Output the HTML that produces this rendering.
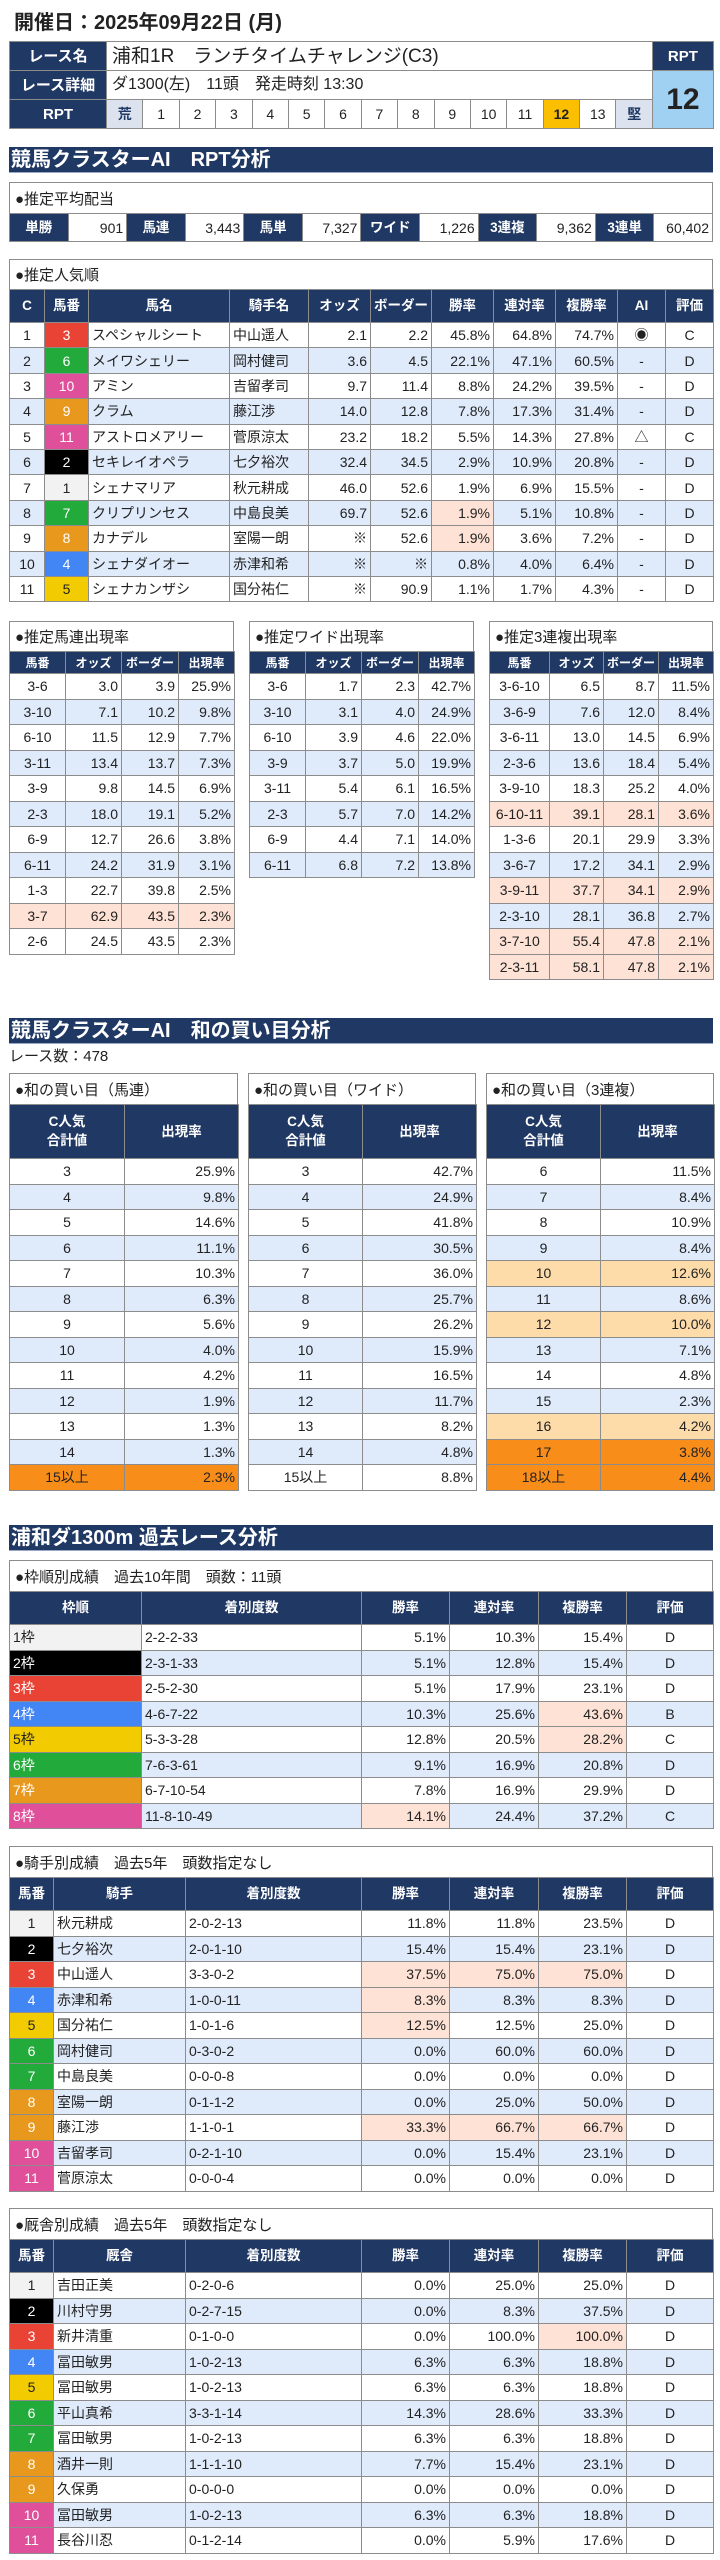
<!DOCTYPE html>
<html><head><meta charset="utf-8">
<style>
*{margin:0;padding:0;box-sizing:border-box}
body{width:720px;height:2560px;background:#fff;position:relative;font-family:"Liberation Sans","Noto Sans CJK JP",sans-serif;color:#222;overflow:hidden}
.a{position:absolute}
table{border-collapse:collapse;table-layout:fixed;position:absolute}
td{border:1px solid #8c8c8c;padding:0 3px;font-size:14px;white-space:nowrap;overflow:hidden;line-height:1}
td.h{background:#203864;color:#fff;font-weight:bold;text-align:center;font-size:13.5px}
.c{text-align:center}.r{text-align:right}.l{text-align:left}
tr.b td{background:#dfeafb}
td.s,tr.b td.s,tr.s td{background:#fde2d5}
td.o1,tr.b td.o1{background:#fddcaa}
td.o2,tr.b td.o2{background:#f98d1a}
.ttl{position:absolute;border:1px solid #8c8c8c;border-bottom:none;font-size:15px;padding-left:5px;display:flex;align-items:center;background:#fff}
.sec{position:absolute;left:9px;width:704px;height:26px;background:#203864;color:#fff;font-weight:bold;font-size:20px;line-height:26px;padding-left:2px;border-bottom:1px solid #9aa8c8}
.w1{background:#f2f2f2!important;color:#222}
.w2{background:#000!important;color:#fff}
.w3{background:#e94335!important;color:#fff}
.w4{background:#4285f4!important;color:#fff}
.w5{background:#f2cc00!important;color:#222}
.w6{background:#22aa3a!important;color:#fff}
.w7{background:#e8981d!important;color:#fff}
.w8{background:#e0509a!important;color:#fff}
</style></head><body>

<div class="a" style="left:14px;top:8px;font-size:20px;font-weight:bold;line-height:30px">開催日：2025年09月22日 (月)</div>

<table style="left:9px;top:41px;width:704px;border:1px solid #555">
<colgroup><col style="width:97px"><col span="15" style="width:36.4px"><col style="width:61px"></colgroup>
<tr style="height:29px"><td class="h" style="font-size:15px">レース名</td><td colspan="15" style="font-size:19px;padding-left:5px">浦和1R　ランチタイムチャレンジ(C3)</td><td class="h" style="font-size:15px">RPT</td></tr>
<tr style="height:29px"><td class="h" style="font-size:15px">レース詳細</td><td colspan="15" style="font-size:16px;padding-left:5px">ダ1300(左)　11頭　発走時刻 13:30</td><td rowspan="2" style="background:#a0d0f2;text-align:center;font-size:30px;font-weight:bold">12</td></tr>
<tr style="height:29px"><td class="h" style="font-size:15px">RPT</td><td class="c" style="background:#dce3ef;font-weight:bold;color:#203864">荒</td><td class="c">1</td><td class="c">2</td><td class="c">3</td><td class="c">4</td><td class="c">5</td><td class="c">6</td><td class="c">7</td><td class="c">8</td><td class="c">9</td><td class="c">10</td><td class="c">11</td><td class="c" style="background:#fbbf00;font-weight:bold">12</td><td class="c">13</td><td class="c" style="background:#dce3ef;font-weight:bold;color:#203864">堅</td></tr>
</table>

<div class="sec" style="top:147px">競馬クラスターAI　RPT分析</div>

<div class="ttl" style="left:9px;top:182px;width:704px;height:31px">●推定平均配当</div>
<table style="left:9px;top:213px;width:704px">
<tr style="height:28px"><td class="h">単勝</td><td class="r">901</td><td class="h">馬連</td><td class="r">3,443</td><td class="h">馬単</td><td class="r">7,327</td><td class="h">ワイド</td><td class="r">1,226</td><td class="h">3連複</td><td class="r">9,362</td><td class="h">3連単</td><td class="r">60,402</td></tr>
</table>

<div class="ttl" style="left:9px;top:259px;width:704px;height:30px">●推定人気順</div>
<table style="left:9px;top:289px;width:704px">
<colgroup><col style="width:35px"><col style="width:44px"><col style="width:141px"><col style="width:79px"><col style="width:62px"><col style="width:61px"><col style="width:62px"><col style="width:62px"><col style="width:62px"><col style="width:48px"><col style="width:48px"></colgroup>
<tr style="height:33px"><td class="h">C</td><td class="h">馬番</td><td class="h">馬名</td><td class="h">騎手名</td><td class="h">オッズ</td><td class="h">ボーダー</td><td class="h">勝率</td><td class="h">連対率</td><td class="h">複勝率</td><td class="h">AI</td><td class="h">評価</td></tr>
<tr style="height:25.4px"><td class="c">1</td><td class="c w3">3</td><td>スペシャルシート</td><td>中山遥人</td><td class="r">2.1</td><td class="r">2.2</td><td class="r">45.8%</td><td class="r">64.8%</td><td class="r">74.7%</td><td class="c">◉</td><td class="c">C</td></tr>
<tr class="b" style="height:25.4px"><td class="c">2</td><td class="c w6">6</td><td>メイワシェリー</td><td>岡村健司</td><td class="r">3.6</td><td class="r">4.5</td><td class="r">22.1%</td><td class="r">47.1%</td><td class="r">60.5%</td><td class="c">-</td><td class="c">D</td></tr>
<tr style="height:25.4px"><td class="c">3</td><td class="c w8">10</td><td>アミン</td><td>吉留孝司</td><td class="r">9.7</td><td class="r">11.4</td><td class="r">8.8%</td><td class="r">24.2%</td><td class="r">39.5%</td><td class="c">-</td><td class="c">D</td></tr>
<tr class="b" style="height:25.4px"><td class="c">4</td><td class="c w7">9</td><td>クラム</td><td>藤江渉</td><td class="r">14.0</td><td class="r">12.8</td><td class="r">7.8%</td><td class="r">17.3%</td><td class="r">31.4%</td><td class="c">-</td><td class="c">D</td></tr>
<tr style="height:25.4px"><td class="c">5</td><td class="c w8">11</td><td>アストロメアリー</td><td>菅原涼太</td><td class="r">23.2</td><td class="r">18.2</td><td class="r">5.5%</td><td class="r">14.3%</td><td class="r">27.8%</td><td class="c">△</td><td class="c">C</td></tr>
<tr class="b" style="height:25.4px"><td class="c">6</td><td class="c w2">2</td><td>セキレイオペラ</td><td>七夕裕次</td><td class="r">32.4</td><td class="r">34.5</td><td class="r">2.9%</td><td class="r">10.9%</td><td class="r">20.8%</td><td class="c">-</td><td class="c">D</td></tr>
<tr style="height:25.4px"><td class="c">7</td><td class="c w1">1</td><td>シェナマリア</td><td>秋元耕成</td><td class="r">46.0</td><td class="r">52.6</td><td class="r">1.9%</td><td class="r">6.9%</td><td class="r">15.5%</td><td class="c">-</td><td class="c">D</td></tr>
<tr class="b" style="height:25.4px"><td class="c">8</td><td class="c w6">7</td><td>クリプリンセス</td><td>中島良美</td><td class="r">69.7</td><td class="r">52.6</td><td class="r s">1.9%</td><td class="r">5.1%</td><td class="r">10.8%</td><td class="c">-</td><td class="c">D</td></tr>
<tr style="height:25.4px"><td class="c">9</td><td class="c w7">8</td><td>カナデル</td><td>室陽一朗</td><td class="r">※</td><td class="r">52.6</td><td class="r s">1.9%</td><td class="r">3.6%</td><td class="r">7.2%</td><td class="c">-</td><td class="c">D</td></tr>
<tr class="b" style="height:25.4px"><td class="c">10</td><td class="c w4">4</td><td>シェナダイオー</td><td>赤津和希</td><td class="r">※</td><td class="r">※</td><td class="r">0.8%</td><td class="r">4.0%</td><td class="r">6.4%</td><td class="c">-</td><td class="c">D</td></tr>
<tr style="height:25.4px"><td class="c">11</td><td class="c w5">5</td><td>シェナカンザシ</td><td>国分祐仁</td><td class="r">※</td><td class="r">90.9</td><td class="r">1.1%</td><td class="r">1.7%</td><td class="r">4.3%</td><td class="c">-</td><td class="c">D</td></tr>
</table>

<!-- small tables -->
<div class="ttl" style="left:9px;top:621px;width:225px;height:30px">●推定馬連出現率</div>
<table style="left:9px;top:651px;width:225px">
<colgroup><col style="width:56px"><col style="width:56px"><col style="width:57px"><col style="width:56px"></colgroup>
<tr style="height:22px"><td class="h" style="font-size:12px">馬番</td><td class="h" style="font-size:12px">オッズ</td><td class="h" style="font-size:12px">ボーダー</td><td class="h" style="font-size:12px">出現率</td></tr>
<tr style="height:25.5px"><td class="c">3-6</td><td class="r">3.0</td><td class="r">3.9</td><td class="r">25.9%</td></tr>
<tr class="b" style="height:25.5px"><td class="c">3-10</td><td class="r">7.1</td><td class="r">10.2</td><td class="r">9.8%</td></tr>
<tr style="height:25.5px"><td class="c">6-10</td><td class="r">11.5</td><td class="r">12.9</td><td class="r">7.7%</td></tr>
<tr class="b" style="height:25.5px"><td class="c">3-11</td><td class="r">13.4</td><td class="r">13.7</td><td class="r">7.3%</td></tr>
<tr style="height:25.5px"><td class="c">3-9</td><td class="r">9.8</td><td class="r">14.5</td><td class="r">6.9%</td></tr>
<tr class="b" style="height:25.5px"><td class="c">2-3</td><td class="r">18.0</td><td class="r">19.1</td><td class="r">5.2%</td></tr>
<tr style="height:25.5px"><td class="c">6-9</td><td class="r">12.7</td><td class="r">26.6</td><td class="r">3.8%</td></tr>
<tr class="b" style="height:25.5px"><td class="c">6-11</td><td class="r">24.2</td><td class="r">31.9</td><td class="r">3.1%</td></tr>
<tr style="height:25.5px"><td class="c">1-3</td><td class="r">22.7</td><td class="r">39.8</td><td class="r">2.5%</td></tr>
<tr class="s" style="height:25.5px"><td class="c">3-7</td><td class="r">62.9</td><td class="r">43.5</td><td class="r">2.3%</td></tr>
<tr style="height:25.5px"><td class="c">2-6</td><td class="r">24.5</td><td class="r">43.5</td><td class="r">2.3%</td></tr>
</table>

<div class="ttl" style="left:249px;top:621px;width:225px;height:30px">●推定ワイド出現率</div>
<table style="left:249px;top:651px;width:225px">
<colgroup><col style="width:56px"><col style="width:56px"><col style="width:57px"><col style="width:56px"></colgroup>
<tr style="height:22px"><td class="h" style="font-size:12px">馬番</td><td class="h" style="font-size:12px">オッズ</td><td class="h" style="font-size:12px">ボーダー</td><td class="h" style="font-size:12px">出現率</td></tr>
<tr style="height:25.5px"><td class="c">3-6</td><td class="r">1.7</td><td class="r">2.3</td><td class="r">42.7%</td></tr>
<tr class="b" style="height:25.5px"><td class="c">3-10</td><td class="r">3.1</td><td class="r">4.0</td><td class="r">24.9%</td></tr>
<tr style="height:25.5px"><td class="c">6-10</td><td class="r">3.9</td><td class="r">4.6</td><td class="r">22.0%</td></tr>
<tr class="b" style="height:25.5px"><td class="c">3-9</td><td class="r">3.7</td><td class="r">5.0</td><td class="r">19.9%</td></tr>
<tr style="height:25.5px"><td class="c">3-11</td><td class="r">5.4</td><td class="r">6.1</td><td class="r">16.5%</td></tr>
<tr class="b" style="height:25.5px"><td class="c">2-3</td><td class="r">5.7</td><td class="r">7.0</td><td class="r">14.2%</td></tr>
<tr style="height:25.5px"><td class="c">6-9</td><td class="r">4.4</td><td class="r">7.1</td><td class="r">14.0%</td></tr>
<tr class="b" style="height:25.5px"><td class="c">6-11</td><td class="r">6.8</td><td class="r">7.2</td><td class="r">13.8%</td></tr>
</table>

<div class="ttl" style="left:489px;top:621px;width:224px;height:30px">●推定3連複出現率</div>
<table style="left:489px;top:651px;width:224px">
<colgroup><col style="width:60px"><col style="width:54px"><col style="width:55px"><col style="width:55px"></colgroup>
<tr style="height:22px"><td class="h" style="font-size:12px">馬番</td><td class="h" style="font-size:12px">オッズ</td><td class="h" style="font-size:12px">ボーダー</td><td class="h" style="font-size:12px">出現率</td></tr>
<tr style="height:25.5px"><td class="c">3-6-10</td><td class="r">6.5</td><td class="r">8.7</td><td class="r">11.5%</td></tr>
<tr class="b" style="height:25.5px"><td class="c">3-6-9</td><td class="r">7.6</td><td class="r">12.0</td><td class="r">8.4%</td></tr>
<tr style="height:25.5px"><td class="c">3-6-11</td><td class="r">13.0</td><td class="r">14.5</td><td class="r">6.9%</td></tr>
<tr class="b" style="height:25.5px"><td class="c">2-3-6</td><td class="r">13.6</td><td class="r">18.4</td><td class="r">5.4%</td></tr>
<tr style="height:25.5px"><td class="c">3-9-10</td><td class="r">18.3</td><td class="r">25.2</td><td class="r">4.0%</td></tr>
<tr class="s" style="height:25.5px"><td class="c">6-10-11</td><td class="r">39.1</td><td class="r">28.1</td><td class="r">3.6%</td></tr>
<tr style="height:25.5px"><td class="c">1-3-6</td><td class="r">20.1</td><td class="r">29.9</td><td class="r">3.3%</td></tr>
<tr class="b" style="height:25.5px"><td class="c">3-6-7</td><td class="r">17.2</td><td class="r">34.1</td><td class="r">2.9%</td></tr>
<tr class="s" style="height:25.5px"><td class="c">3-9-11</td><td class="r">37.7</td><td class="r">34.1</td><td class="r">2.9%</td></tr>
<tr class="b" style="height:25.5px"><td class="c">2-3-10</td><td class="r">28.1</td><td class="r">36.8</td><td class="r">2.7%</td></tr>
<tr class="s" style="height:25.5px"><td class="c">3-7-10</td><td class="r">55.4</td><td class="r">47.8</td><td class="r">2.1%</td></tr>
<tr class="s" style="height:25.5px"><td class="c">2-3-11</td><td class="r">58.1</td><td class="r">47.8</td><td class="r">2.1%</td></tr>
</table>

<div class="sec" style="top:1018px">競馬クラスターAI　和の買い目分析</div>
<div class="a" style="left:9px;top:1047px;font-size:15px;line-height:20px">レース数：478</div>

<div class="ttl" style="left:9px;top:1073px;width:229px;height:31px">●和の買い目（馬連）</div>
<table style="left:9px;top:1104px;width:229px">
<colgroup><col style="width:115px"><col style="width:114px"></colgroup>
<tr style="height:54px"><td class="h" style="line-height:1.4">C人気<br>合計値</td><td class="h">出現率</td></tr>
<tr style="height:25.5px"><td class="c">3</td><td class="r">25.9%</td></tr>
<tr class="b" style="height:25.5px"><td class="c">4</td><td class="r">9.8%</td></tr>
<tr style="height:25.5px"><td class="c">5</td><td class="r">14.6%</td></tr>
<tr class="b" style="height:25.5px"><td class="c">6</td><td class="r">11.1%</td></tr>
<tr style="height:25.5px"><td class="c">7</td><td class="r">10.3%</td></tr>
<tr class="b" style="height:25.5px"><td class="c">8</td><td class="r">6.3%</td></tr>
<tr style="height:25.5px"><td class="c">9</td><td class="r">5.6%</td></tr>
<tr class="b" style="height:25.5px"><td class="c">10</td><td class="r">4.0%</td></tr>
<tr style="height:25.5px"><td class="c">11</td><td class="r">4.2%</td></tr>
<tr class="b" style="height:25.5px"><td class="c">12</td><td class="r">1.9%</td></tr>
<tr style="height:25.5px"><td class="c">13</td><td class="r">1.3%</td></tr>
<tr class="b" style="height:25.5px"><td class="c">14</td><td class="r">1.3%</td></tr>
<tr style="height:25.5px"><td class="c o2">15以上</td><td class="r o2">2.3%</td></tr>
</table>

<div class="ttl" style="left:248px;top:1073px;width:228px;height:31px">●和の買い目（ワイド）</div>
<table style="left:248px;top:1104px;width:228px">
<colgroup><col style="width:114px"><col style="width:114px"></colgroup>
<tr style="height:54px"><td class="h" style="line-height:1.4">C人気<br>合計値</td><td class="h">出現率</td></tr>
<tr style="height:25.5px"><td class="c">3</td><td class="r">42.7%</td></tr>
<tr class="b" style="height:25.5px"><td class="c">4</td><td class="r">24.9%</td></tr>
<tr style="height:25.5px"><td class="c">5</td><td class="r">41.8%</td></tr>
<tr class="b" style="height:25.5px"><td class="c">6</td><td class="r">30.5%</td></tr>
<tr style="height:25.5px"><td class="c">7</td><td class="r">36.0%</td></tr>
<tr class="b" style="height:25.5px"><td class="c">8</td><td class="r">25.7%</td></tr>
<tr style="height:25.5px"><td class="c">9</td><td class="r">26.2%</td></tr>
<tr class="b" style="height:25.5px"><td class="c">10</td><td class="r">15.9%</td></tr>
<tr style="height:25.5px"><td class="c">11</td><td class="r">16.5%</td></tr>
<tr class="b" style="height:25.5px"><td class="c">12</td><td class="r">11.7%</td></tr>
<tr style="height:25.5px"><td class="c">13</td><td class="r">8.2%</td></tr>
<tr class="b" style="height:25.5px"><td class="c">14</td><td class="r">4.8%</td></tr>
<tr style="height:25.5px"><td class="c">15以上</td><td class="r">8.8%</td></tr>
</table>

<div class="ttl" style="left:486px;top:1073px;width:228px;height:31px">●和の買い目（3連複）</div>
<table style="left:486px;top:1104px;width:228px">
<colgroup><col style="width:114px"><col style="width:114px"></colgroup>
<tr style="height:54px"><td class="h" style="line-height:1.4">C人気<br>合計値</td><td class="h">出現率</td></tr>
<tr style="height:25.5px"><td class="c">6</td><td class="r">11.5%</td></tr>
<tr class="b" style="height:25.5px"><td class="c">7</td><td class="r">8.4%</td></tr>
<tr style="height:25.5px"><td class="c">8</td><td class="r">10.9%</td></tr>
<tr class="b" style="height:25.5px"><td class="c">9</td><td class="r">8.4%</td></tr>
<tr style="height:25.5px"><td class="c o1">10</td><td class="r o1">12.6%</td></tr>
<tr class="b" style="height:25.5px"><td class="c">11</td><td class="r">8.6%</td></tr>
<tr style="height:25.5px"><td class="c o1">12</td><td class="r o1">10.0%</td></tr>
<tr class="b" style="height:25.5px"><td class="c">13</td><td class="r">7.1%</td></tr>
<tr style="height:25.5px"><td class="c">14</td><td class="r">4.8%</td></tr>
<tr class="b" style="height:25.5px"><td class="c">15</td><td class="r">2.3%</td></tr>
<tr style="height:25.5px"><td class="c o1">16</td><td class="r o1">4.2%</td></tr>
<tr class="b" style="height:25.5px"><td class="c o2">17</td><td class="r o2">3.8%</td></tr>
<tr style="height:25.5px"><td class="c o2">18以上</td><td class="r o2">4.4%</td></tr>
</table>

<div class="sec" style="top:1525px">浦和ダ1300m 過去レース分析</div>

<div class="ttl" style="left:9px;top:1560px;width:704px;height:31px">●枠順別成績　過去10年間　頭数：11頭</div>
<table style="left:9px;top:1591px;width:704px">
<colgroup><col style="width:132px"><col style="width:220px"><col style="width:88px"><col style="width:89px"><col style="width:88px"><col style="width:87px"></colgroup>
<tr style="height:33px"><td class="h">枠順</td><td class="h">着別度数</td><td class="h">勝率</td><td class="h">連対率</td><td class="h">複勝率</td><td class="h">評価</td></tr>
<tr style="height:25.5px"><td class="w1">1枠</td><td>2-2-2-33</td><td class="r">5.1%</td><td class="r">10.3%</td><td class="r">15.4%</td><td class="c">D</td></tr>
<tr class="b" style="height:25.5px"><td class="w2">2枠</td><td>2-3-1-33</td><td class="r">5.1%</td><td class="r">12.8%</td><td class="r">15.4%</td><td class="c">D</td></tr>
<tr style="height:25.5px"><td class="w3">3枠</td><td>2-5-2-30</td><td class="r">5.1%</td><td class="r">17.9%</td><td class="r">23.1%</td><td class="c">D</td></tr>
<tr class="b" style="height:25.5px"><td class="w4">4枠</td><td>4-6-7-22</td><td class="r">10.3%</td><td class="r">25.6%</td><td class="r s">43.6%</td><td class="c">B</td></tr>
<tr style="height:25.5px"><td class="w5">5枠</td><td>5-3-3-28</td><td class="r">12.8%</td><td class="r">20.5%</td><td class="r s">28.2%</td><td class="c">C</td></tr>
<tr class="b" style="height:25.5px"><td class="w6">6枠</td><td>7-6-3-61</td><td class="r">9.1%</td><td class="r">16.9%</td><td class="r">20.8%</td><td class="c">D</td></tr>
<tr style="height:25.5px"><td class="w7">7枠</td><td>6-7-10-54</td><td class="r">7.8%</td><td class="r">16.9%</td><td class="r">29.9%</td><td class="c">D</td></tr>
<tr class="b" style="height:25.5px"><td class="w8">8枠</td><td>11-8-10-49</td><td class="r s">14.1%</td><td class="r">24.4%</td><td class="r">37.2%</td><td class="c">C</td></tr>
</table>

<div class="ttl" style="left:9px;top:1846px;width:704px;height:31px">●騎手別成績　過去5年　頭数指定なし</div>
<table style="left:9px;top:1877px;width:704px">
<colgroup><col style="width:44px"><col style="width:132px"><col style="width:176px"><col style="width:88px"><col style="width:89px"><col style="width:88px"><col style="width:87px"></colgroup>
<tr style="height:33px"><td class="h">馬番</td><td class="h">騎手</td><td class="h">着別度数</td><td class="h">勝率</td><td class="h">連対率</td><td class="h">複勝率</td><td class="h">評価</td></tr>
<tr style="height:25.5px"><td class="c w1">1</td><td>秋元耕成</td><td>2-0-2-13</td><td class="r">11.8%</td><td class="r">11.8%</td><td class="r">23.5%</td><td class="c">D</td></tr>
<tr class="b" style="height:25.5px"><td class="c w2">2</td><td>七夕裕次</td><td>2-0-1-10</td><td class="r">15.4%</td><td class="r">15.4%</td><td class="r">23.1%</td><td class="c">D</td></tr>
<tr style="height:25.5px"><td class="c w3">3</td><td>中山遥人</td><td>3-3-0-2</td><td class="r s">37.5%</td><td class="r s">75.0%</td><td class="r s">75.0%</td><td class="c">D</td></tr>
<tr class="b" style="height:25.5px"><td class="c w4">4</td><td>赤津和希</td><td>1-0-0-11</td><td class="r s">8.3%</td><td class="r">8.3%</td><td class="r">8.3%</td><td class="c">D</td></tr>
<tr style="height:25.5px"><td class="c w5">5</td><td>国分祐仁</td><td>1-0-1-6</td><td class="r s">12.5%</td><td class="r">12.5%</td><td class="r">25.0%</td><td class="c">D</td></tr>
<tr class="b" style="height:25.5px"><td class="c w6">6</td><td>岡村健司</td><td>0-3-0-2</td><td class="r">0.0%</td><td class="r">60.0%</td><td class="r">60.0%</td><td class="c">D</td></tr>
<tr style="height:25.5px"><td class="c w6">7</td><td>中島良美</td><td>0-0-0-8</td><td class="r">0.0%</td><td class="r">0.0%</td><td class="r">0.0%</td><td class="c">D</td></tr>
<tr class="b" style="height:25.5px"><td class="c w7">8</td><td>室陽一朗</td><td>0-1-1-2</td><td class="r">0.0%</td><td class="r">25.0%</td><td class="r">50.0%</td><td class="c">D</td></tr>
<tr style="height:25.5px"><td class="c w7">9</td><td>藤江渉</td><td>1-1-0-1</td><td class="r s">33.3%</td><td class="r s">66.7%</td><td class="r s">66.7%</td><td class="c">D</td></tr>
<tr class="b" style="height:25.5px"><td class="c w8">10</td><td>吉留孝司</td><td>0-2-1-10</td><td class="r">0.0%</td><td class="r">15.4%</td><td class="r">23.1%</td><td class="c">D</td></tr>
<tr style="height:25.5px"><td class="c w8">11</td><td>菅原涼太</td><td>0-0-0-4</td><td class="r">0.0%</td><td class="r">0.0%</td><td class="r">0.0%</td><td class="c">D</td></tr>
</table>

<div class="ttl" style="left:9px;top:2208px;width:704px;height:31px">●厩舎別成績　過去5年　頭数指定なし</div>
<table style="left:9px;top:2239px;width:704px">
<colgroup><col style="width:44px"><col style="width:132px"><col style="width:176px"><col style="width:88px"><col style="width:89px"><col style="width:88px"><col style="width:87px"></colgroup>
<tr style="height:33px"><td class="h">馬番</td><td class="h">厩舎</td><td class="h">着別度数</td><td class="h">勝率</td><td class="h">連対率</td><td class="h">複勝率</td><td class="h">評価</td></tr>
<tr style="height:25.5px"><td class="c w1">1</td><td>吉田正美</td><td>0-2-0-6</td><td class="r">0.0%</td><td class="r">25.0%</td><td class="r">25.0%</td><td class="c">D</td></tr>
<tr class="b" style="height:25.5px"><td class="c w2">2</td><td>川村守男</td><td>0-2-7-15</td><td class="r">0.0%</td><td class="r">8.3%</td><td class="r">37.5%</td><td class="c">D</td></tr>
<tr style="height:25.5px"><td class="c w3">3</td><td>新井清重</td><td>0-1-0-0</td><td class="r">0.0%</td><td class="r">100.0%</td><td class="r s">100.0%</td><td class="c">D</td></tr>
<tr class="b" style="height:25.5px"><td class="c w4">4</td><td>冨田敏男</td><td>1-0-2-13</td><td class="r">6.3%</td><td class="r">6.3%</td><td class="r">18.8%</td><td class="c">D</td></tr>
<tr style="height:25.5px"><td class="c w5">5</td><td>冨田敏男</td><td>1-0-2-13</td><td class="r">6.3%</td><td class="r">6.3%</td><td class="r">18.8%</td><td class="c">D</td></tr>
<tr class="b" style="height:25.5px"><td class="c w6">6</td><td>平山真希</td><td>3-3-1-14</td><td class="r">14.3%</td><td class="r">28.6%</td><td class="r">33.3%</td><td class="c">D</td></tr>
<tr style="height:25.5px"><td class="c w6">7</td><td>冨田敏男</td><td>1-0-2-13</td><td class="r">6.3%</td><td class="r">6.3%</td><td class="r">18.8%</td><td class="c">D</td></tr>
<tr class="b" style="height:25.5px"><td class="c w7">8</td><td>酒井一則</td><td>1-1-1-10</td><td class="r">7.7%</td><td class="r">15.4%</td><td class="r">23.1%</td><td class="c">D</td></tr>
<tr style="height:25.5px"><td class="c w7">9</td><td>久保勇</td><td>0-0-0-0</td><td class="r">0.0%</td><td class="r">0.0%</td><td class="r">0.0%</td><td class="c">D</td></tr>
<tr class="b" style="height:25.5px"><td class="c w8">10</td><td>冨田敏男</td><td>1-0-2-13</td><td class="r">6.3%</td><td class="r">6.3%</td><td class="r">18.8%</td><td class="c">D</td></tr>
<tr style="height:25.5px"><td class="c w8">11</td><td>長谷川忍</td><td>0-1-2-14</td><td class="r">0.0%</td><td class="r">5.9%</td><td class="r">17.6%</td><td class="c">D</td></tr>
</table>

</body></html>
